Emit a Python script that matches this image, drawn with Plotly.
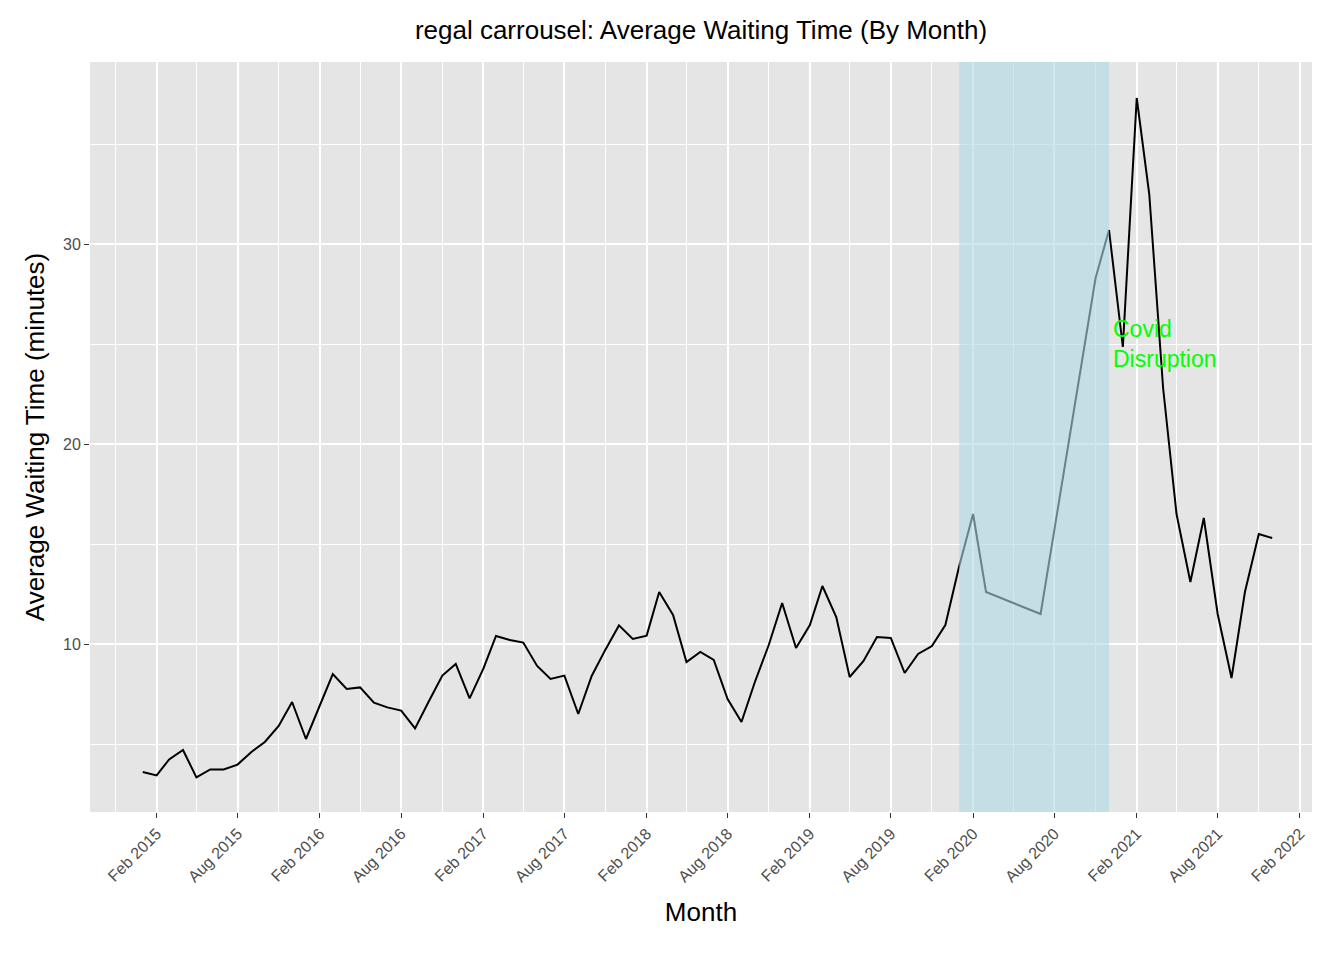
import pandas as pd
import plotly.graph_objects as go

# monthly average waiting time, regal carrousel (Apr-Jun and Aug-Oct 2020 missing)
months = (list(pd.date_range("2015-01-01", "2020-03-01", freq="MS").strftime("%Y-%m-%d"))
          + ["2020-07-01", "2020-11-01", "2020-12-01"]
          + list(pd.date_range("2021-01-01", "2021-12-01", freq="MS").strftime("%Y-%m-%d")))
wait_min = [
    3.6, 3.43, 4.23, 4.7, 3.33, 3.73, 3.73, 3.97, 4.6, 5.1, 5.9, 7.1,
    5.25, 6.9, 8.5, 7.75, 7.83, 7.07, 6.83, 6.67, 5.78, 7.1, 8.42, 9.0,
    7.28, 8.78, 10.4, 10.2, 10.07, 8.9, 8.25, 8.42, 6.5, 8.4, 9.73, 10.93,
    10.25, 10.42, 12.6, 11.45, 9.1, 9.6, 9.2, 7.25, 6.1, 8.1, 9.95, 12.05,
    9.8, 10.95, 12.9, 11.35, 8.35, 9.15, 10.35, 10.3, 8.55, 9.5, 9.9, 10.95,
    13.9, 16.5, 12.6,
    11.5, 28.3, 30.7,
    24.85, 37.3, 32.5, 22.8, 16.5, 13.1, 16.3, 11.5, 8.3, 12.6, 15.5, 15.3,
]
covid_start, covid_end = "2020-01-01", "2020-12-01"
tick_dates = pd.date_range("2015-02-01", "2022-02-01", freq="6MS")

fig = go.Figure(go.Scatter(x=months, y=wait_min, mode="lines",
                           line=dict(color="black", width=2), hoverinfo="x+y"))

fig.add_vrect(x0=covid_start, x1=covid_end, fillcolor="#add8e6", opacity=0.6,
              line_width=0, layer="above")
fig.add_annotation(x=covid_end, y=25, text="Covid<br>Disruption", showarrow=False,
                   xanchor="left", xshift=2, align="left",
                   font=dict(color="#00ff00", size=23))

fig.update_layout(
    width=1344, height=960,
    font=dict(family="Liberation Sans, Arial, sans-serif", size=22, color="black"),
    title=dict(text="regal carrousel: Average Waiting Time (By Month)", x=0.5, xanchor="center",
               xref="paper", y=1 - 22 / 960, yanchor="middle", font=dict(size=26)),
    plot_bgcolor="#e5e5e5", paper_bgcolor="white",
    margin=dict(l=82, r=40, t=54, b=156),
    showlegend=False,
)
fig.update_xaxes(
    title=dict(text="Month", standoff=18),
    range=["2014-09-05", "2022-02-28"],
    tickvals=list(tick_dates), ticktext=[d.strftime("%b %Y") for d in tick_dates],
    tickangle=-45, tickfont=dict(size=16, color="#4d4d4d"),
    showgrid=True, gridcolor="white", gridwidth=2, zeroline=False,
    ticks="outside", ticklen=5, tickcolor="#333333",
    minor=dict(tickvals=list(pd.date_range("2014-11-01", "2021-11-01", freq="6MS")),
               showgrid=True, gridcolor="white", gridwidth=1, ticks=""),
)
fig.update_yaxes(
    title=dict(text="Average Waiting Time (minutes)", standoff=10),
    range=[1.6, 39.1], tickvals=[10, 20, 30],
    tickfont=dict(size=16, color="#4d4d4d"),
    showgrid=True, gridcolor="white", gridwidth=2, zeroline=False,
    ticks="outside", ticklen=5, tickcolor="#333333",
    minor=dict(tickvals=[5, 15, 25, 35], showgrid=True, gridcolor="white", gridwidth=1, ticks=""),
)

fig.write_html("out.html")
